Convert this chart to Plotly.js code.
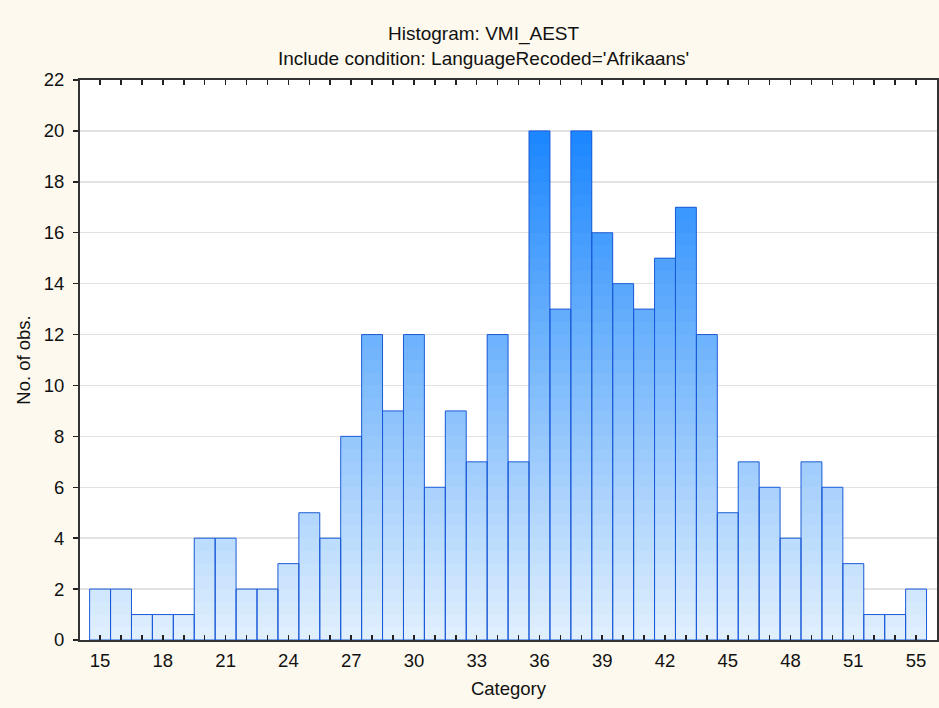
<!DOCTYPE html>
<html>
<head>
<meta charset="utf-8">
<script src="https://cdn.plot.ly/plotly-3.0.1.min.js"></script>
<style>html,body{margin:0;padding:0;background:#fdf9ee;}#chart{width:939px;height:708px;}</style>
</head>
<body>
<div id="chart"></div>
<script>
// Bin index (0..39) and the label shown under each bin ("" = unlabeled tick)
var binIndex = [0,1,2,3,4,5,6,7,8,9,10,11,12,13,14,15,16,17,18,19,20,21,22,23,24,25,26,27,28,29,30,31,32,33,34,35,36,37,38,39];
var binLabels = ["15","","","18","","","21","","","24","","","27","","","30","","","33","","","36","","","39","","","42","","","45","","","48","","","51","","","55"];
// Number of observations per bin
var counts = [2,2,1,1,1,4,4,2,2,3,5,4,8,12,9,12,6,9,7,12,7,20,13,20,16,14,13,15,17,12,5,7,6,4,7,6,3,1,1,2];
var yTicks = [0,2,4,6,8,10,12,14,16,18,20,22];

var FONT = "Liberation Sans, Arial, sans-serif";

// gradient colour by absolute height
var stops = [[0,[226,240,254]],[10,[128,188,252]],[20,[26,134,255]]];
function colorAt(v){
  for (var i=0;i<stops.length-1;i++){
    var a=stops[i], b=stops[i+1];
    if (v<=b[0]){
      var t=(v-a[0])/(b[0]-a[0]);
      var c=a[1].map(function(x,k){return Math.round(x+(b[1][k]-x)*t);});
      return 'rgb('+c.join(',')+')';
    }
  }
  return 'rgb('+stops[stops.length-1][1].join(',')+')';
}

var maxC = Math.max.apply(null, counts);
var step = 0.5;
var traces = [];
for (var L=0; L<maxC; L+=step){
  var seg = counts.map(function(c){ return Math.max(0, Math.min(c, L+step) - L); });
  traces.push({
    type:'bar', x: binIndex, y: seg, base: L, width: 1,
    marker:{color: colorAt(L+step/2), line:{width:0}},
    hoverinfo:'skip', showlegend:false
  });
}
traces.push({
  type:'bar', x: binIndex, y: counts, width: 1,
  marker:{color:'rgba(0,0,0,0)', line:{color:'#1a5ad8', width:1}},
  showlegend:false
});

var layout = {
  width:939, height:708,
  paper_bgcolor:'#fdf9ee', plot_bgcolor:'#ffffff',
  margin:{l:80, r:2, t:80, b:68},
  barmode:'overlay', bargap:0,
  font:{family:FONT, color:'#111', size:18.5},
  title:{text:'Histogram: VMI_AEST<br>Include condition: LanguageRecoded=\'Afrikaans\'',
         font:{family:FONT, size:19, color:'#111'},
         x:0.515, xanchor:'center', yref:'container', y:1-40/708, yanchor:'middle'},
  xaxis:{
    range:[-0.96, 40.0], tickmode:'array', tickvals: binIndex, ticktext: binLabels,
    ticks:'inside', ticklen:5, tickwidth:1.5, tickcolor:'#222',
    showline:true, linecolor:'#333', linewidth:2, mirror:'ticks',
    showgrid:false, zeroline:false, ticklabelstandoff:3,
    tickfont:{family:FONT, size:18.5, color:'#111'},
    title:{text:'Category', font:{family:FONT, size:18.5, color:'#111'}, standoff:12}
  },
  yaxis:{
    range:[0,22], tickmode:'array', tickvals:yTicks,
    ticks:'outside', ticklen:5, tickwidth:1.5, tickcolor:'#222',
    showline:true, linecolor:'#333', linewidth:2, mirror:'ticks',
    showgrid:true, gridcolor:'#e2e2e2', gridwidth:1.5, zeroline:false, ticklabelstandoff:5,
    tickfont:{family:FONT, size:18.5, color:'#111'},
    title:{text:'No. of obs.', font:{family:FONT, size:18.5, color:'#111'}, standoff:8}
  }
};

Plotly.newPlot('chart', traces, layout, {displayModeBar:false, staticPlot:true});
</script>
</body>
</html>
